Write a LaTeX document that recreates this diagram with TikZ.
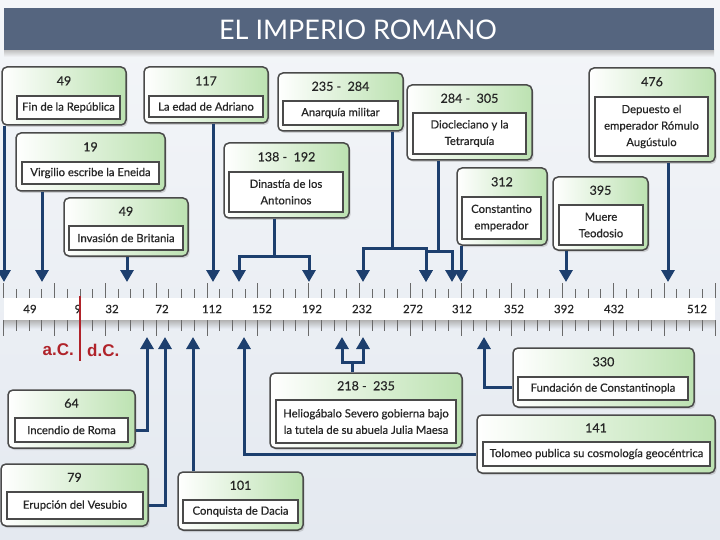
\documentclass[tikz,border=0pt]{standalone}
\usepackage{fontspec}
\setmainfont{Lato}
\newfontfamily\boxfont{Lato}[FakeBold=0.5]
\newfontfamily\arialfont{Liberation Sans}
\usetikzlibrary{arrows.meta,fit,shadows,calc}
\definecolor{bgtop}{HTML}{F4F6F9}
\definecolor{bgbot}{HTML}{E4E9F0}
\definecolor{titlebar}{HTML}{55657F}
\definecolor{navy}{HTML}{1D3F6E}
\definecolor{boxgreen}{HTML}{BCE2B1}
\definecolor{boxborder}{HTML}{4A4A4A}
\definecolor{tickcol}{HTML}{6A6A6A}
\definecolor{redline}{HTML}{B0232A}
\tikzset{
  outerbox/.style={draw=boxborder, line width=1.5pt, rounded corners=5pt, left color=white, right color=boxgreen, inner sep=0pt,
    drop shadow={opacity=0.3, shadow xshift=1.5pt, shadow yshift=-2pt}},
  innerbox/.style={draw=boxborder, line width=1.4pt, fill=white, inner sep=0pt},
  yeartext/.style={font=\boxfont\fontsize{12.5}{14}\selectfont, text=black!85, inner sep=0pt},
  desctext/.style={font=\boxfont\fontsize{11.3}{16.5}\selectfont, text=black!85, align=center, inner sep=0pt},
  conn/.style={draw=navy, line width=3pt},
  arr/.style={conn, -{Triangle[width=13pt,length=12pt]}},
  axislabel/.style={font=\boxfont\fontsize{11.5}{13}\selectfont, text=black!85, inner sep=0pt},
  acdc/.style={font=\arialfont\bfseries\fontsize{17}{19}\selectfont, text=redline, inner sep=0pt}
}
\newcommand\evbox[9]{%
  \node[outerbox, fit={(#2,#3) (#4,#5)}] (#1) {};
  \node[innerbox, fit={(#7) (#8)}] (#1-b) {};
  \node[yeartext] (#1-y) at ($(#1.north)!0.5!(#1.north |- #1-b.north)$) {#6};
  \node[desctext] (#1-t) at (#1-b.center) {#9};
}
\begin{document}
\begin{tikzpicture}[x=1pt,y=-1pt]
\useasboundingbox (0,0) rectangle (720,540);
\shade[top color=bgtop, bottom color=bgbot] (0,0) rectangle (720,540);
% title
\shade[top color=black!25, bottom color=bgtop] (4,50) rectangle (714,57);
\node[fill=titlebar, fit={(4,8) (714,50)}, inner sep=0pt] (bar) {};
\node[text=white, font=\fontsize{27}{30}\selectfont, inner sep=0pt] (title) at (358,30) {EL IMPERIO ROMANO};

% timeline strip
\shade[top color=black!30, bottom color=bgbot] (4,320) rectangle (715,328);
\node[fill=white, fit={(4,298) (715,320)}, inner sep=0pt] (strip) {};
\foreach \n in {-36,...,20} {
  \pgfmathsetmacro\xx{461+12.7*\n}
  \pgfmathparse{mod(\n,4)==0 ? 1 : 0}
  \ifnum\pgfmathresult=1
    \draw[tickcol, line width=0.9pt] (\xx,283) -- (\xx,298) (\xx,320) -- (\xx,336);
  \else
    \draw[tickcol, line width=0.9pt] (\xx,289) -- (\xx,298) (\xx,320) -- (\xx,331);
  \fi
}
\foreach \x/\l in {30/49, 78/9, 112/32, 162/72, 212/112, 262/152, 312/192, 362/232, 413/272, 462/312, 514/352, 564/392, 614/432, 697/512}
  \node[axislabel] (lab\l) at (\x,309) {\l};
\draw[redline, line width=2pt] (80,296) -- (80,361);
\node[acdc, anchor=east] (ac) at (74,350) {a.C.};
\node[acdc, anchor=west] (dc) at (87,350) {d.C.};

% top events
\evbox{fin}{2}{67}{126}{125}{49}{17,96}{120,119}{Fin de la República}
\evbox{virg}{16}{133}{165}{191}{19}{22,162}{159,184}{Virgilio escribe la Eneida}
\evbox{brit}{64}{198}{188}{256}{49}{69,226}{183,250}{Invasión de Britania}
\evbox{adri}{144}{67}{268}{123}{117}{149,96}{263,117}{La edad de Adriano}
\evbox{anton}{224}{143}{349}{218}{138 -\ \ 192}{229,172}{343,212}{Dinastía de los\\Antoninos}
\evbox{anar}{278}{73}{403}{131}{235 -\ \ 284}{283,101}{398,125}{Anarquía militar}
\evbox{diocl}{407}{85}{532}{160}{284 -\ \ 305}{413,113}{526,154}{Diocleciano y la\\Tetrarquía}
\evbox{const}{457}{168}{547}{245}{312}{462,197}{541,239}{Constantino\\emperador}
\evbox{teod}{553}{177}{648}{250}{395}{559,205}{643,245}{Muere\\Teodosio}
\evbox{romu}{589}{68}{715}{162}{476}{595,97}{708,156}{Depuesto el\\emperador Rómulo\\Augústulo}

% bottom events
\evbox{incen}{8}{390}{135}{448}{64}{15,418}{128,442}{Incendio de Roma}
\evbox{vesu}{1}{464}{148}{526}{79}{7,492}{143,519}{Erupción del Vesubio}
\evbox{dacia}{178}{472}{303}{530}{101}{183,500}{298,523}{Conquista de Dacia}
\evbox{helio}{270}{373}{462}{448}{218 -\ \ 235}{276,400}{456,443}{Heliogábalo Severo gobierna bajo\\la tutela de su abuela Julia Maesa}
\evbox{fund}{513}{348}{694}{407}{330}{518,377}{688,400}{Fundación de Constantinopla}
\evbox{tolo}{477}{415}{715}{473}{141}{483,442}{710,466}{Tolomeo publica su cosmología geocéntrica}

% arrow tips on the timeline
\coordinate (a1) at (4,282);
\coordinate (a2) at (42,282);
\coordinate (a3) at (127,282);
\coordinate (a4) at (213,282);
\coordinate (a5) at (239,282);
\coordinate (a6) at (309,282);
\coordinate (a7) at (363,282);
\coordinate (a8) at (426,282);
\coordinate (a9) at (452,282);
\coordinate (a10) at (461,282);
\coordinate (a11) at (566,282);
\coordinate (a12) at (668,282);
\coordinate (b1) at (147,337);
\coordinate (b2) at (165,337);
\coordinate (b3) at (193,337);
\coordinate (b4) at (244,337);
\coordinate (b5) at (342,337);
\coordinate (b6) at (363,337);
\coordinate (b7) at (484,337);
% branch points
\coordinate (s5) at (274,256);
\coordinate (s7) at (392,248);
\coordinate (s9) at (438,251);
\coordinate (s6) at (352,362);
\coordinate (c1) at (147,430);
\coordinate (c2) at (165,505);
\coordinate (c7) at (484,387);
\coordinate (c4) at (244,454);

% top connectors
\draw[arr] (fin.south -| a1) -- (a1);
\draw[arr] (virg.south -| a2) -- (a2);
\draw[arr] (brit.south -| a3) -- (a3);
\draw[arr] (adri.south -| a4) -- (a4);
\draw[conn] (anton.south -| s5) -- (s5);
\draw[arr] (s5) -| (a5);
\draw[arr] (s5) -| (a6);
\draw[conn] (anar.south -| s7) -- (s7);
\draw[arr] (s7) -| (a7);
\draw[arr] (s7) -| (a8);
\draw[conn] (diocl.south -| s9) -- (s9);
\draw[arr] (s9) -| (a8);
\draw[arr] (s9) -| (a9);
\draw[arr] (const.south -| a10) -- (a10);
\draw[arr] (teod.south -| a11) -- (a11);
\draw[arr] (romu.south -| a12) -- (a12);

% bottom connectors
\draw[arr] (incen.east |- c1) -- (c1) -- (b1);
\draw[arr] (vesu.east |- c2) -- (c2) -- (b2);
\draw[arr] (dacia.north -| b3) -- (b3);
\draw[conn] (helio.north -| s6) -- (s6);
\draw[arr] (s6) -| (b5);
\draw[arr] (s6) -| (b6);
\draw[arr] (fund.west |- c7) -- (c7) -- (b7);
\draw[arr] (tolo.west |- c4) -- (c4) -- (b4);
\end{tikzpicture}
\end{document}
